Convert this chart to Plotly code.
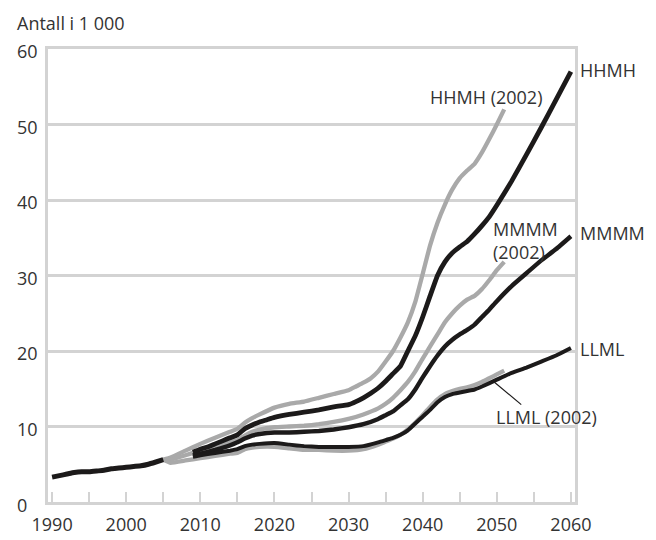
import plotly.graph_objects as go

# ---------------- data ----------------
hist_years = list(range(1990, 2006))
hist_vals = [3.3, 3.5, 3.7, 3.9, 4.0, 4.0, 4.1, 4.2, 4.4, 4.5, 4.6, 4.7, 4.8, 5.0, 5.3, 5.6]

hhmh02_years = [2005, 2006, 2008, 2010, 2012, 2014, 2015, 2016, 2017, 2018, 2020, 2022, 2024, 2026, 2028,
                2030, 2031, 2032, 2033, 2034, 2035, 2036, 2037, 2038, 2039, 2040, 2041, 2042, 2043, 2044,
                2045, 2046, 2047, 2048, 2049, 2050, 2051]
hhmh02_vals = [5.6, 5.9, 6.8, 7.7, 8.5, 9.3, 9.7, 10.5, 11.1, 11.6, 12.5, 13.0, 13.3, 13.8, 14.3,
               14.8, 15.3, 15.8, 16.4, 17.3, 18.6, 20.0, 21.8, 23.8, 26.5, 30.2, 34.0, 37.0, 39.4, 41.4,
               42.9, 43.9, 44.8, 46.3, 48.1, 50.0, 52.0]

mmmm02_years = [2005, 2006, 2008, 2010, 2012, 2014, 2015, 2016, 2017, 2018, 2020, 2022, 2024, 2026, 2028,
                2030, 2032, 2034, 2035, 2036, 2037, 2038, 2039, 2040, 2041, 2042, 2043, 2044, 2045, 2046,
                2047, 2048, 2049, 2050, 2051]
mmmm02_vals = [5.6, 5.6, 6.2, 6.8, 7.3, 7.9, 8.2, 8.8, 9.3, 9.6, 9.9, 10.0, 10.1, 10.3, 10.6,
               11.0, 11.6, 12.4, 13.0, 13.8, 14.8, 15.9, 17.3, 19.0, 20.6, 22.2, 23.8, 25.0, 26.0, 26.8,
               27.3, 28.2, 29.4, 30.7, 31.8]

llml02_years = [2005, 2006, 2008, 2010, 2012, 2014, 2015, 2016, 2017, 2018, 2020, 2022, 2024, 2026, 2028,
                2030, 2032, 2034, 2035, 2036, 2037, 2038, 2039, 2040, 2041, 2042, 2043, 2044, 2045, 2046,
                2047, 2048, 2049, 2050, 2051]
llml02_vals = [5.6, 5.2, 5.5, 5.8, 6.1, 6.4, 6.5, 7.0, 7.2, 7.3, 7.3, 7.1, 6.9, 6.9, 6.8,
               6.8, 7.0, 7.6, 8.0, 8.4, 8.9, 9.6, 10.5, 11.5, 12.6, 13.6, 14.3, 14.7, 15.0, 15.2,
               15.5, 15.9, 16.4, 16.9, 17.4]

hhmh_years = [2009, 2010, 2011, 2012, 2013, 2014, 2015, 2016, 2017, 2018, 2019, 2020, 2022, 2024, 2026,
              2028, 2030, 2031, 2032, 2033, 2034, 2035, 2036, 2037, 2038, 2039, 2040, 2041, 2042, 2043,
              2044, 2045, 2046, 2047, 2048, 2049, 2050, 2052, 2054, 2056, 2058, 2060]
hhmh_vals = [6.6, 7.0, 7.3, 7.7, 8.1, 8.5, 8.9, 9.7, 10.2, 10.6, 10.9, 11.2, 11.6, 11.9, 12.2,
             12.6, 12.9, 13.3, 13.8, 14.4, 15.1, 16.0, 17.0, 18.0, 20.0, 22.0, 24.5, 27.3, 30.0, 31.8,
             33.0, 33.8, 34.5, 35.5, 36.6, 37.8, 39.3, 42.5, 46.0, 49.6, 53.3, 57.0]

mmmm_years = [2009, 2010, 2012, 2014, 2015, 2016, 2017, 2018, 2020, 2022, 2024, 2026, 2028, 2030, 2032,
              2034, 2035, 2036, 2037, 2038, 2039, 2040, 2041, 2042, 2043, 2044, 2045, 2046, 2047, 2048,
              2049, 2050, 2052, 2054, 2056, 2058, 2060]
mmmm_vals = [6.2, 6.4, 6.9, 7.5, 7.9, 8.4, 8.8, 9.0, 9.2, 9.2, 9.3, 9.4, 9.6, 9.9, 10.3,
             11.0, 11.5, 12.0, 12.8, 13.6, 14.9, 16.5, 18.0, 19.4, 20.6, 21.5, 22.2, 22.8, 23.5, 24.5,
             25.5, 26.6, 28.6, 30.3, 32.0, 33.5, 35.2]

llml_years = [2009, 2010, 2012, 2014, 2015, 2016, 2017, 2018, 2020, 2022, 2024, 2026, 2028, 2030, 2032,
              2034, 2035, 2036, 2037, 2038, 2039, 2040, 2041, 2042, 2043, 2044, 2045, 2046, 2047, 2048,
              2050, 2052, 2054, 2056, 2058, 2060]
llml_vals = [6.0, 6.2, 6.5, 6.8, 7.0, 7.4, 7.6, 7.7, 7.8, 7.6, 7.4, 7.3, 7.3, 7.3, 7.4,
             7.9, 8.2, 8.5, 8.9, 9.5, 10.4, 11.3, 12.2, 13.2, 13.9, 14.3, 14.5, 14.7, 14.9, 15.3,
             16.2, 17.1, 17.8, 18.6, 19.4, 20.4]

x_tick_vals = [1990, 2000, 2010, 2020, 2030, 2040, 2050, 2060]
y_tick_vals = [0, 10, 20, 30, 40, 50, 60]
y_title = "Antall i 1 000"

# ---------------- styling ----------------
FONT = "Open Sans, Noto Sans, DejaVu Sans, sans-serif"
TXT = "#333333"
GREY = "#a9a9a9"
BLACK = "#1c1a1a"
AXC = "#d3d3d3"
X0, X1 = 1989.45, 2060.55
Y0, Y1 = 0, 60

fig = go.Figure()

for yrs, vals in [(hhmh02_years, hhmh02_vals), (mmmm02_years, mmmm02_vals), (llml02_years, llml02_vals)]:
    fig.add_trace(go.Scatter(x=yrs, y=vals, mode="lines",
                             line=dict(color=GREY, width=4.3, shape="spline", smoothing=0.3),
                             hoverinfo="skip", showlegend=False))

for yrs, vals, w in [(hhmh_years, hhmh_vals, 4.8), (mmmm_years, mmmm_vals, 4.4), (llml_years, llml_vals, 4.0)]:
    fig.add_trace(go.Scatter(x=yrs, y=vals, mode="lines",
                             line=dict(color=BLACK, width=w, shape="spline", smoothing=0.3),
                             hoverinfo="skip", showlegend=False))

fig.add_trace(go.Scatter(x=hist_years, y=hist_vals, mode="lines",
                         line=dict(color=BLACK, width=5, shape="spline", smoothing=0.3),
                         hoverinfo="skip", showlegend=False))


def px(year):
    return (year - X0) / (X1 - X0)


def py(v):
    return (v - Y0) / (Y1 - Y0)


labels = [
    ("HHMH", 2060.95, 57.2),
    ("HHMH (2002)", 2040.75, 53.6),
    ("MMMM", 2060.95, 35.6),
    ("MMMM<br>(2002)", 2049.25, 34.6),
    ("LLML", 2060.95, 20.2),
    ("LLML (2002)", 2049.65, 11.2),
]
for text, xx, yy in labels:
    fig.add_annotation(text=text, x=px(xx), y=py(yy), xref="paper", yref="paper",
                       xanchor="left", yanchor="middle", align="left", showarrow=False,
                       font=dict(family=FONT, size=18, color=TXT))

# y tick labels (left aligned, as in the original)
for v in y_tick_vals:
    fig.add_annotation(text=str(v), x=px(1985.0), y=v, xref="paper", yref="y",
                       xanchor="left", yanchor="middle", showarrow=False,
                       yshift=-3 if v == 0 else -2,
                       font=dict(family=FONT, size=18, color=TXT))

fig.add_annotation(text=y_title, x=px(1985.0), y=py(63.45), xref="paper", yref="paper",
                   xanchor="left", yanchor="middle", showarrow=False,
                   font=dict(family=FONT, size=18, color=TXT))

# leader line for LLML (2002)
fig.add_shape(type="line", x0=2049.4, y0=16.1, x1=2053.3, y1=12.9, xref="x", yref="y",
              line=dict(color=BLACK, width=1.2))

fig.update_layout(
    width=656, height=540,
    margin=dict(l=40, r=89, t=41, b=46),
    paper_bgcolor="white", plot_bgcolor="white",
    font=dict(family=FONT, size=18, color=TXT),
    showlegend=False,
)
fig.update_xaxes(range=[X0, X1], tickvals=x_tick_vals, ticktext=[str(v) for v in x_tick_vals],
                 ticks="inside", ticklen=10, tickwidth=2, tickcolor=AXC, ticklabelstandoff=5,
                 minor=dict(dtick=5, tick0=1990, ticks="inside", ticklen=10, tickwidth=2, tickcolor=AXC, showgrid=False),
                 showgrid=False, zeroline=False, showline=True, linecolor=AXC, linewidth=2.5, mirror=True,
                 tickfont=dict(family=FONT, size=18, color=TXT))
fig.update_yaxes(range=[Y0, Y1], tickvals=y_tick_vals, showticklabels=False, ticks="",
                 showgrid=True, gridcolor=AXC, gridwidth=2.5, zeroline=False,
                 showline=True, linecolor=AXC, linewidth=2.5, mirror=True)

fig.write_html("out.html")
